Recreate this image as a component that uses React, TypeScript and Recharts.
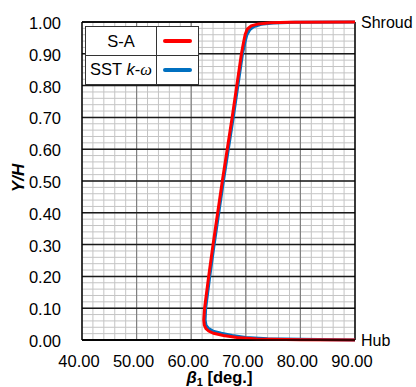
import React from 'react';
import { LineChart, Line, XAxis, YAxis, CartesianGrid, ReferenceLine, Legend, Label } from 'recharts';

const FONT = "Arial, 'Liberation Sans', sans-serif";

// S-A series: blade angle beta_1 [deg.] vs span Y/H (hub -> shroud)
const saBeta = [90, 80, 72, 68.4, 65.9, 64.1, 63.2, 62.7, 62.4, 62.3, 62.45, 63.2, 64.0, 64.85, 65.7, 66.6, 67.5, 68.35, 69.2, 69.6, 69.9, 70.3, 71.0, 72.3, 74.5, 78, 90];
const saY = [0.0, 0.001, 0.003, 0.008, 0.014, 0.021, 0.028, 0.036, 0.047, 0.063, 0.1, 0.2, 0.3, 0.4, 0.5, 0.6, 0.7, 0.8, 0.9, 0.937, 0.962, 0.978, 0.988, 0.994, 0.998, 0.9995, 1.0];

// SST k-omega series
const sstBeta = [90, 80, 74, 70, 67.5, 65.5, 64.0, 63.2, 62.7, 62.55, 62.65, 63.4, 64.2, 65.05, 65.9, 66.8, 67.7, 68.55, 69.4, 69.85, 70.2, 70.7, 71.5, 72.8, 75, 79, 90];
const sstY = [0.0, 0.002, 0.004, 0.008, 0.014, 0.021, 0.028, 0.036, 0.047, 0.063, 0.1, 0.2, 0.3, 0.4, 0.5, 0.6, 0.7, 0.8, 0.9, 0.937, 0.96, 0.975, 0.986, 0.993, 0.997, 0.999, 1.0];

const xTicks = [40, 50, 60, 70, 80, 90];
const xMajorInner = [50, 60, 70, 80];
const yTicks = [0, 0.1, 0.2, 0.3, 0.4, 0.5, 0.6, 0.7, 0.8, 0.9, 1.0];
const xMinor: number[] = [];
for (let v = 40; v <= 90; v += 2) xMinor.push(v);
const yMinor: number[] = [];
for (let i = 0; i <= 50; i++) yMinor.push(i / 50);

const saName = 'S-A';
const sstName = 'SST k-ω';
const saColor = '#ff0000';
const sstColor = '#0070c0';

const saData = saBeta.map((b, i) => ({ beta: b, y: saY[i] }));
const sstData = sstBeta.map((b, i) => ({ beta: b, y: sstY[i] }));

const XTick = (p: any) => (
  <text x={p.x - 3} y={p.y + 26.5} textAnchor="middle" fontFamily={FONT} fontSize={16.5} fill="#000">
    {Number(p.payload.value).toFixed(2)}
  </text>
);

const YTick = (p: any) => (
  <text x={p.x - 21} y={p.y + 7} textAnchor="end" fontFamily={FONT} fontSize={16.5} fill="#000">
    {Number(p.payload.value).toFixed(2)}
  </text>
);

const XLabel = (props: any) => {
  const vb = props.viewBox || { x: 82, y: 340, width: 273 };
  const cx = vb.x + vb.width / 2 + 1;
  return (
    <text x={cx} y={vb.y + 42.5} textAnchor="middle" fontFamily={FONT} fontSize={16.5} fontWeight="bold" fill="#000">
      <tspan fontStyle="italic">β</tspan>
      <tspan fontSize={11} dy={3}>1</tspan>
      <tspan dy={-3}> [deg.]</tspan>
    </text>
  );
};

const YLabel = (props: any) => {
  const vb = props.viewBox || { x: 22, y: 22, width: 60, height: 318 };
  const x = vb.x + 2;
  const y = vb.y + vb.height / 2 - 3;
  return (
    <text x={x} y={y} transform={`rotate(-90, ${x}, ${y})`} textAnchor="middle" fontFamily={FONT} fontSize={17} fontWeight="bold" fontStyle="italic" fill="#000">
      Y/H
    </text>
  );
};

const legendItems = [
  { key: 'sa', color: saColor, label: <span>{saName}</span> },
  {
    key: 'sst',
    color: sstColor,
    label: (
      <span>
        SST <i>k</i>-<i style={{ fontFamily: "'Liberation Serif', 'DejaVu Serif', serif" }}>ω</i>
      </span>
    ),
  },
];

const renderLegend = () => (
  <div
    style={{
      width: 114,
      border: '1px solid #333',
      background: '#fff',
      fontFamily: FONT,
      fontSize: 16.5,
      color: '#000',
      boxSizing: 'border-box',
    }}
  >
    {legendItems.map((s, i) => (
      <div key={s.key} style={{ display: 'flex', height: 28, borderTop: i ? '1px solid #333' : 'none' }}>
        <div
          style={{
            width: 70,
            borderRight: '1px solid #333',
            display: 'flex',
            alignItems: 'center',
            justifyContent: 'center',
            whiteSpace: 'nowrap',
          }}
        >
          {s.label}
        </div>
        <div style={{ flex: 1, display: 'flex', alignItems: 'center', justifyContent: 'center' }}>
          <div style={{ width: 29, height: 3.5, background: s.color, borderRadius: 2 }} />
        </div>
      </div>
    ))}
  </div>
);

export default function App() {
  return (
    <div style={{ position: 'absolute', left: 0, top: 0 }}>
      <LineChart width={416} height={387} margin={{ top: 22, right: 61, bottom: 7, left: 22 }}>
        <CartesianGrid stroke="#c4c4c4" strokeWidth={1} horizontalValues={yMinor} verticalValues={xMinor} />
        <CartesianGrid stroke="#808080" strokeWidth={1.2} horizontal={false} verticalValues={xMajorInner} />
        <CartesianGrid stroke="#1a1a1a" strokeWidth={1.5} vertical={false} horizontalValues={yTicks} />
        <XAxis
          type="number"
          dataKey="beta"
          domain={[40, 90]}
          ticks={xTicks}
          interval={0}
          height={40}
          tickSize={0}
          tickMargin={0}
          tickLine={false}
          axisLine={{ stroke: '#000', strokeWidth: 1.5 }}
          tick={XTick}
        >
          <Label content={XLabel} />
        </XAxis>
        <YAxis
          type="number"
          domain={[0, 1]}
          ticks={yTicks}
          interval={0}
          width={60}
          tickSize={0}
          tickMargin={0}
          tickLine={false}
          axisLine={{ stroke: '#000', strokeWidth: 1.5 }}
          tick={YTick}
        >
          <Label content={YLabel} />
        </YAxis>
        <ReferenceLine x={90} stroke="#000" strokeWidth={1.5} />
        <ReferenceLine
          y={1}
          stroke="#000"
          strokeWidth={1.5}
          label={{ value: 'Shroud', position: 'right', fill: '#000', fontSize: 16, fontFamily: FONT, offset: 6 }}
        />
        <ReferenceLine
          y={0}
          stroke="#000"
          strokeWidth={1.5}
          label={{ value: 'Hub', position: 'right', fill: '#000', fontSize: 16, fontFamily: FONT, offset: 6 }}
        />
        <Legend
          layout="vertical"
          align="center"
          verticalAlign="middle"
          wrapperStyle={{ left: 85, top: 26, width: 'auto' }}
          content={renderLegend}
        />
        <Line
          data={sstData}
          dataKey="y"
          name={sstName}
          type="linear"
          stroke={sstColor}
          strokeWidth={3}
          dot={false}
          activeDot={false}
          isAnimationActive={false}
        />
        <Line
          data={saData}
          dataKey="y"
          name={saName}
          type="linear"
          stroke={saColor}
          strokeWidth={3}
          dot={false}
          activeDot={false}
          isAnimationActive={false}
        />
      </LineChart>
    </div>
  );
}
